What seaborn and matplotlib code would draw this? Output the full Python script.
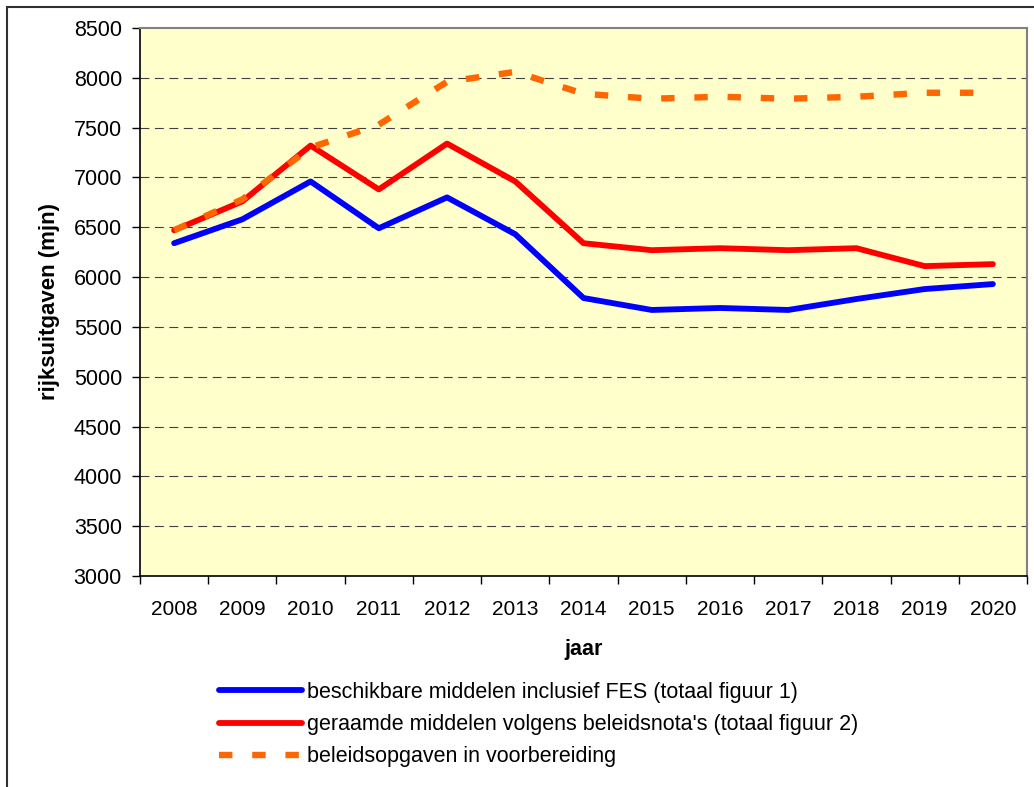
import numpy as np
import matplotlib
matplotlib.use("Agg")
import matplotlib.pyplot as plt
import seaborn as sns
from matplotlib.patches import Rectangle
from matplotlib.ticker import FixedLocator, NullFormatter

# Data (rijksuitgaven in mjn)
jaren = ['2008', '2009', '2010', '2011', '2012', '2013', '2014',
         '2015', '2016', '2017', '2018', '2019', '2020']
beschikbaar = [6340, 6580, 6960, 6490, 6800, 6430, 5790,
               5670, 5690, 5670, 5780, 5880, 5930]
geraamd = [6470, 6760, 7320, 6880, 7340, 6960, 6340,
           6270, 6290, 6270, 6290, 6110, 6130]
beleidsopgaven = [6470, 6780, 7300, 7530, 7960, 8060, 7840,
                  7790, 7810, 7790, 7810, 7850, 7850]
labels = ["beschikbare middelen inclusief FES (totaal figuur 1)",
          "geraamde middelen volgens beleidsnota's (totaal figuur 2)",
          "beleidsopgaven in voorbereiding"]

sns.set_style("white")
plt.rcParams['font.family'] = ['Liberation Sans', 'DejaVu Sans']
plt.rcParams['text.color'] = 'black'
plt.rcParams['axes.labelcolor'] = 'black'
plt.rcParams['xtick.color'] = 'black'
plt.rcParams['ytick.color'] = 'black'

W, H = 1034, 787
fig = plt.figure(figsize=(W / 100, H / 100), dpi=100)
ax = fig.add_axes([140 / W, 1 - 576 / H, (1027 - 140) / W, (576 - 28) / H])
ax.set_facecolor('#FFFFCC')

pos = np.arange(len(jaren))
sns.lineplot(x=pos, y=beschikbaar, ax=ax, color='#0000FF', linewidth=4.2,
             solid_capstyle='round', label=labels[0], legend=False)
sns.lineplot(x=pos, y=geraamd, ax=ax, color='#FF0000', linewidth=4.2,
             solid_capstyle='round', label=labels[1], legend=False)
sns.lineplot(x=pos, y=beleidsopgaven, ax=ax, color='#FF6600', linewidth=4.6,
             linestyle=(0, (2.1, 3.1)), dash_capstyle='butt',
             label=labels[2], legend=False)

# axes
ax.set_xlim(-0.5, len(jaren) - 0.5)
ax.set_ylim(3000, 8500)
ax.set_yticks(np.arange(3000, 8501, 500))
ax.tick_params(axis='y', direction='out', length=6, width=1, color='black',
               labelsize=15.5, pad=7, left=True, labelcolor='black')
ax.set_xticks(pos)
ax.set_xticklabels(jaren)
ax.tick_params(axis='x', which='major', length=0, labelsize=15, pad=17,
               labelcolor='black')
ax.xaxis.set_minor_locator(FixedLocator(np.arange(-0.5, len(jaren), 1)))
ax.xaxis.set_minor_formatter(NullFormatter())
ax.tick_params(axis='x', which='minor', direction='out', length=6, width=1,
               color='black', bottom=True)

for y in np.arange(3500, 8001, 500):
    ax.axhline(y, color='#404040', lw=0.8, linestyle=(0, (8, 5)), zorder=0.5)

for side in ['left', 'bottom']:
    ax.spines[side].set_color('black')
    ax.spines[side].set_linewidth(1.2)
for side in ['top', 'right']:
    ax.spines[side].set_color('#808080')
    ax.spines[side].set_linewidth(1.5)

ax.set_ylabel('rijksuitgaven (mjn)', fontsize=16, fontweight='bold')
ax.yaxis.set_label_coords(-0.09, 0.5)
ax.set_xlabel('jaar', fontsize=15.5, fontweight='bold')
ax.xaxis.set_label_coords(0.5, -0.115)

handles = ax.get_lines()[:3]
fig.legend(handles=handles, labels=labels, loc='upper left',
           bbox_to_anchor=(219 / W, 1 - 682 / H), frameon=False,
           fontsize=15.5, handlelength=3.86, handletextpad=0.23,
           labelspacing=0.52, borderpad=0, borderaxespad=0)

# outer chart frame
fig.add_artist(Rectangle((7 / W, -0.1), 1.2, 1 - 7 / H + 0.1,
                         transform=fig.transFigure, fill=False,
                         edgecolor='#303030', linewidth=1.5))

fig.savefig('out.png', dpi=100)
